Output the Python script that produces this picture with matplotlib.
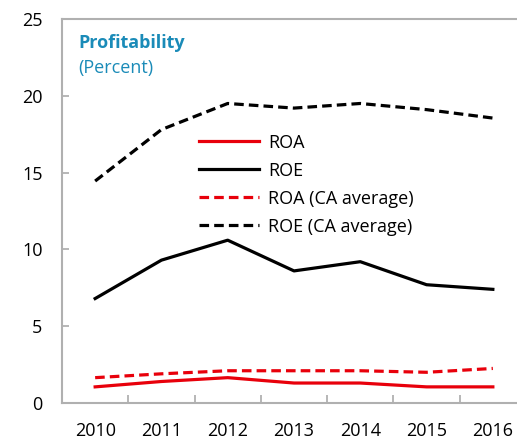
import numpy as np
import matplotlib.pyplot as plt

years = ["2010", "2011", "2012", "2013", "2014", "2015", "2016"]
roa = [1.05, 1.4, 1.65, 1.3, 1.3, 1.05, 1.05]
roe = [6.8, 9.3, 10.6, 8.6, 9.2, 7.7, 7.4]
roa_ca = [1.65, 1.9, 2.1, 2.1, 2.1, 2.0, 2.25]
roe_ca = [14.45, 17.8, 19.5, 19.2, 19.5, 19.1, 18.55]

plt.rcParams['font.family'] = ['Open Sans', 'DejaVu Sans']

fig = plt.figure(figsize=(5.17, 4.41), dpi=100)
ax = fig.add_axes([62 / 517, 38 / 441, 464 / 517, 384 / 441])

x = np.arange(len(years))
red = "#e8000b"
ax.plot(x, roa, color=red, lw=2.3, label="ROA")
ax.plot(x, roe, color="black", lw=2.3, label="ROE")
ax.plot(x, roa_ca, color=red, lw=2.3, ls=(0, (3, 1.6)), label="ROA (CA average)")
ax.plot(x, roe_ca, color="black", lw=2.3, ls=(0, (3, 1.6)), label="ROE (CA average)")

ax.set_xlim(-0.5, len(years) - 0.5)
ax.set_ylim(0, 25)
ax.set_yticks([0, 5, 10, 15, 20, 25])
ax.set_xticks(x)
ax.set_xticklabels(years)
ax.set_xticks(x[:-1] + 0.5, minor=True)

ax.tick_params(axis="x", which="major", length=0, pad=14, labelsize=13)
ax.tick_params(axis="x", which="minor", direction="in", length=6, color="#aaaaaa", width=1.2)
ax.tick_params(axis="y", direction="in", length=5, color="#aaaaaa", width=1.2, pad=14, labelsize=13)

for side in ["left", "bottom", "top"]:
    ax.spines[side].set_color("#b0b0b0")
    ax.spines[side].set_linewidth(1.5)
ax.spines["right"].set_visible(False)

ax.text(0.036, 0.962, "Profitability", transform=ax.transAxes, color="#1a8bb8",
        fontsize=13, fontweight="bold", va="top")
ax.text(0.036, 0.897, "(Percent)", transform=ax.transAxes, color="#1a8bb8",
        fontsize=13, va="top")

ax.legend(loc="upper left", bbox_to_anchor=(0.28, 0.72), frameon=False,
          fontsize=13, handlelength=3.3, handletextpad=0.5, labelspacing=0.55,
          borderaxespad=0)

fig.savefig("out.png", dpi=100)
